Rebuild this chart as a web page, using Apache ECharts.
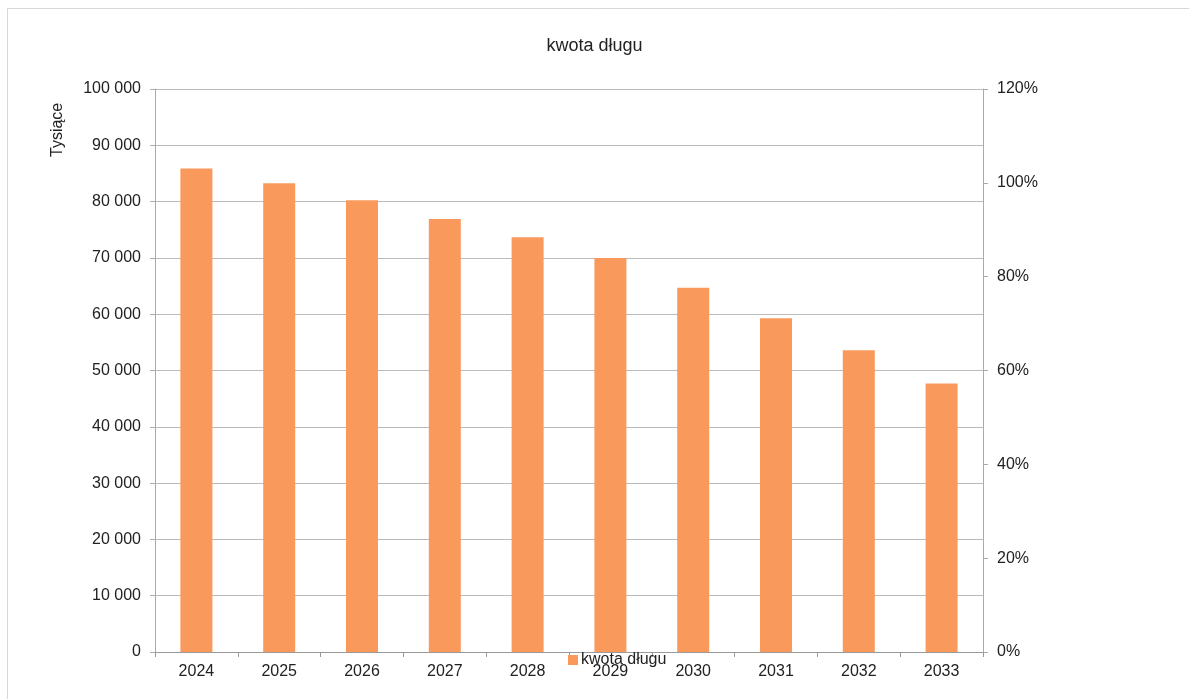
<!DOCTYPE html>
<html><head><meta charset="utf-8">
<script src="https://cdn.jsdelivr.net/npm/echarts@6/dist/echarts.min.js"></script>
<style>html,body{margin:0;padding:0;background:#fff}#c{width:1189px;height:699px}</style>
</head><body><div id="c"></div>
<script>
var years = ['2024','2025','2026','2027','2028','2029','2030','2031','2032','2033'];
var kwotaDlugu = [85900, 83250, 80250, 76900, 73650, 70000, 64700, 59300, 53600, 47700];
var seriesName = 'kwota długu';
var titleText = 'kwota długu';
var leftAxisName = 'Tysiące';

var FONT = "'Liberation Sans Narrow','Liberation Sans',Arial,sans-serif";
var chart = echarts.init(document.getElementById('c'));
function fmtThousands(v){ return String(v).replace(/\B(?=(\d{3})+(?!\d))/g, ' '); }
chart.setOption({
  animation: false,
  backgroundColor: '#fff',
  title: { text: titleText, left: 'center', top: 32, textStyle: { fontFamily: FONT, fontSize: 18, fontWeight: 'normal', color: '#222' } },
  legend: { data: [seriesName], left: 563, top: 647, icon: 'rect', itemWidth: 10, itemHeight: 10, itemGap: 4,
    textStyle: { fontFamily: FONT, fontSize: 16, color: '#222', padding: [0,0,0,-2] } },
  graphic: [
    { type: 'rect', shape: { x: 7.5, y: 8.5, width: 1200, height: 700 }, style: { fill: 'none', stroke: '#d8d8d8', lineWidth: 1 }, silent: true },
    { type: 'text', x: 50, y: 157, rotation: Math.PI/2, style: { text: leftAxisName, font: '16px ' + FONT, fill: '#222' } }
  ],
  grid: { left: 155, right: 206, top: 89, bottom: 47 },
  xAxis: {
    type: 'category', data: years,
    axisLine: { lineStyle: { color: '#999' } },
    axisTick: { show: true, length: 5, lineStyle: { color: '#999' } },
    axisLabel: { fontFamily: FONT, fontSize: 16, color: '#222', margin: 12 }
  },
  yAxis: [
    { type: 'value', min: 0, max: 100000, interval: 10000,
      axisLine: { show: true, lineStyle: { color: '#aaa' } },
      axisTick: { show: true, length: 5, lineStyle: { color: '#aaa' } },
      splitLine: { show: true, lineStyle: { color: '#bbb', width: 1 } },
      axisLabel: { fontFamily: FONT, fontSize: 16, color: '#222', margin: 14, formatter: fmtThousands } },
    { type: 'value', min: 0, max: 1.2, interval: 0.2, position: 'right',
      axisLine: { show: true, lineStyle: { color: '#aaa' } },
      axisTick: { show: true, length: 5, lineStyle: { color: '#aaa' } },
      splitLine: { show: false },
      axisLabel: { fontFamily: FONT, fontSize: 16, color: '#222', margin: 14, formatter: function(v){ return Math.round(v*100) + '%'; } } }
  ],
  series: [
    { name: seriesName, type: 'bar', data: kwotaDlugu, barWidth: 32, itemStyle: { color: '#F99A5C' } },
    { name: '_pct', type: 'line', yAxisIndex: 1, data: [], showSymbol: false }
  ]
});
</script></body></html>
